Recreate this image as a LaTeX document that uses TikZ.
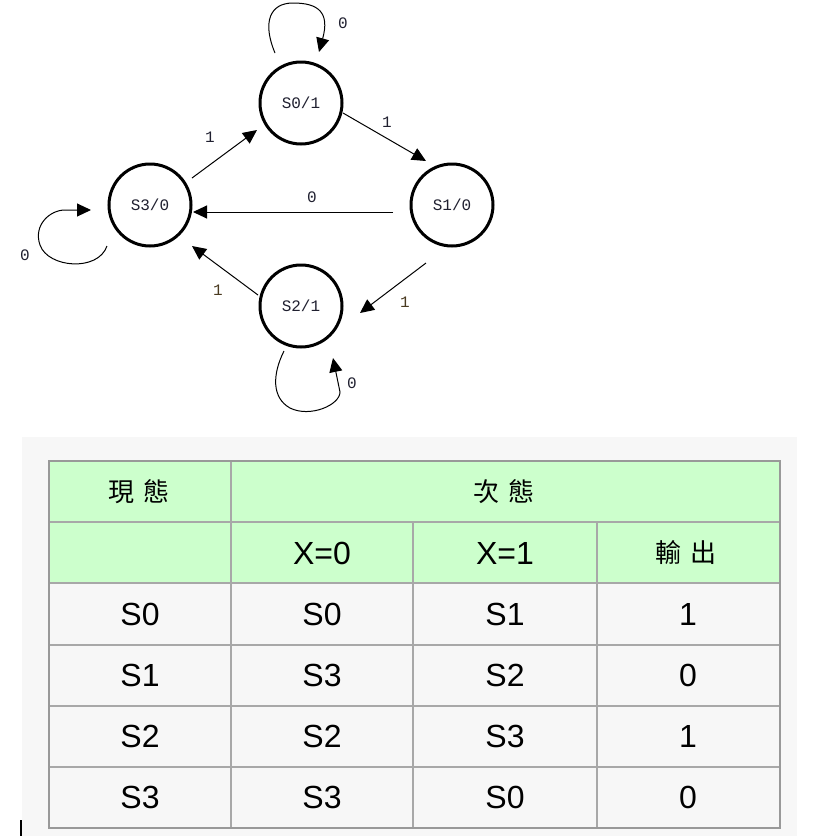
\documentclass[tikz,border=0pt]{standalone}
\usepackage{fontspec}
\setmainfont{Liberation Sans}
\newfontfamily\monof{Liberation Mono}
\newfontfamily\cjk{Noto Sans CJK TC}
\usetikzlibrary{arrows.meta,calc}
\definecolor{hdr}{HTML}{CCFFCC}
\definecolor{bgpat}{HTML}{F7F7F7}
\definecolor{gridc}{HTML}{A8A8A8}
\definecolor{gridout}{HTML}{999999}
\definecolor{lbl}{HTML}{202030}
\definecolor{lblb}{HTML}{4A3A20}
\begin{document}
\begin{tikzpicture}[x=1pt,y=-1pt,
  state/.style={draw,circle,line width=3pt,minimum size=82pt,inner sep=0pt,text=lbl,font=\monof\fontsize{16}{16}\selectfont},
  edge/.style={line width=1pt,-{Triangle[length=14pt,width=13pt]}},
  elabel/.style={font=\monof\fontsize{16}{16}\selectfont,text=lbl,inner sep=0pt},
  cell/.style={font=\fontsize{32}{32}\selectfont,inner sep=0pt},
  cjkcell/.style={font=\cjk\fontsize{26}{26}\selectfont,inner sep=0pt},
  gridline/.style={draw=gridc,line width=1.5pt},
  outline/.style={draw=gridout,line width=2.5pt}]
\useasboundingbox (0,0) rectangle (818,836);
\fill[white] (0,0) rectangle (818,836);
% ---------- state diagram ----------
\node[state] (s0) at (301,103) {S0/1};
\node[state] (s1) at (452,205) {S1/0};
\node[state] (s3) at (150,205) {S3/0};
\node[state] (s2) at (301,306) {S2/1};

\draw[edge] ($(s3)+(42,-27)$) -- ($(s0)+(-44,27)$);
\draw[edge] ($(s0)+(42,10)$) -- ($(s1)+(-26,-44)$);
\draw[edge] ($(s1)+(-59,7)$) -- ($(s3)+(43,7)$);
\draw[edge] ($(s1)+(-26,58)$) -- ($(s2)+(59,7)$);
\draw[edge] ($(s2)+(-43,-11)$) -- ($(s3)+(42,41)$);

% self loops
\draw[edge] ($(s0)+(-26,-50)$) .. controls ($(s0)+(-39,-81)$) and ($(s0)+(-31,-100)$) .. ($(s0)+(-8,-100)$)
   .. controls ($(s0)+(17,-100)$) and ($(s0)+(29,-91)$) .. ($(s0)+(18,-51)$);
\draw[edge] ($(s3)+(-43,41)$) .. controls ($(s3)+(-52,67)$) and ($(s3)+(-102,63)$) .. ($(s3)+(-110,40)$)
   .. controls ($(s3)+(-117,20)$) and ($(s3)+(-100,5)$) .. ($(s3)+(-85,5)$) -- ($(s3)+(-59,5)$);
\draw[edge] ($(s2)+(-17,45)$) .. controls ($(s2)+(-29,69)$) and ($(s2)+(-29,92)$) .. ($(s2)+(-11,102)$)
   .. controls ($(s2)+(9,112)$) and ($(s2)+(39,99)$) .. ($(s2)+(39,86)$) -- ($(s2)+(32,52)$);

% edge labels
\node[elabel] (l00) at (343,23) {0};
\node[elabel] (l33) at (25,255) {0};
\node[elabel] (l22) at (352,383) {0};
\node[elabel] (l30) at (210,137) {1};
\node[elabel] (l01) at (387,122) {1};
\node[elabel] (l13) at (312,197) {0};
\node[elabel,text=lblb] (l12) at (405,302) {1};
\node[elabel,text=lblb] (l23) at (218,290) {1};

% ---------- table ----------
\fill[bgpat] (22,437) rectangle (797,836);
\fill[hdr] (49,461) rectangle (780,583);
\draw[gridline] (49,522) -- (780,522);
\draw[gridline] (49,583) -- (780,583);
\draw[gridline] (49,645) -- (780,645);
\draw[gridline] (49,706) -- (780,706);
\draw[gridline] (49,767) -- (780,767);
\draw[gridline] (231,461) -- (231,828);
\draw[gridline] (413,522) -- (413,828);
\draw[gridline] (597,522) -- (597,828);
\draw[outline] (49,461) rectangle (780,828);

\node[cjkcell] (h1) at (139,492) {現\hspace{10pt}態};
\node[cjkcell] (h2) at (504,492) {次\hspace{10pt}態};
\node[cell] (h3) at (322,553) {X=0};
\node[cell] (h4) at (505,553) {X=1};
\node[cjkcell] (h5) at (686,553) {輸\hspace{10pt}出};

\node[cell] (a1) at (140,614) {S0};
\node[cell] (a2) at (322,614) {S0};
\node[cell] (a3) at (505,614) {S1};
\node[cell] (a4) at (688,614) {1};

\node[cell] (b1) at (140,675) {S1};
\node[cell] (b2) at (322,675) {S3};
\node[cell] (b3) at (505,675) {S2};
\node[cell] (b4) at (688,675) {0};

\node[cell] (c1) at (140,736) {S2};
\node[cell] (c2) at (322,736) {S2};
\node[cell] (c3) at (505,736) {S3};
\node[cell] (c4) at (688,736) {1};

\node[cell] (d1) at (140,797) {S3};
\node[cell] (d2) at (322,797) {S3};
\node[cell] (d3) at (505,797) {S0};
\node[cell] (d4) at (688,797) {0};

% text cursor mark
\fill[black] (20,820) rectangle (22,836);
\end{tikzpicture}
\end{document}
